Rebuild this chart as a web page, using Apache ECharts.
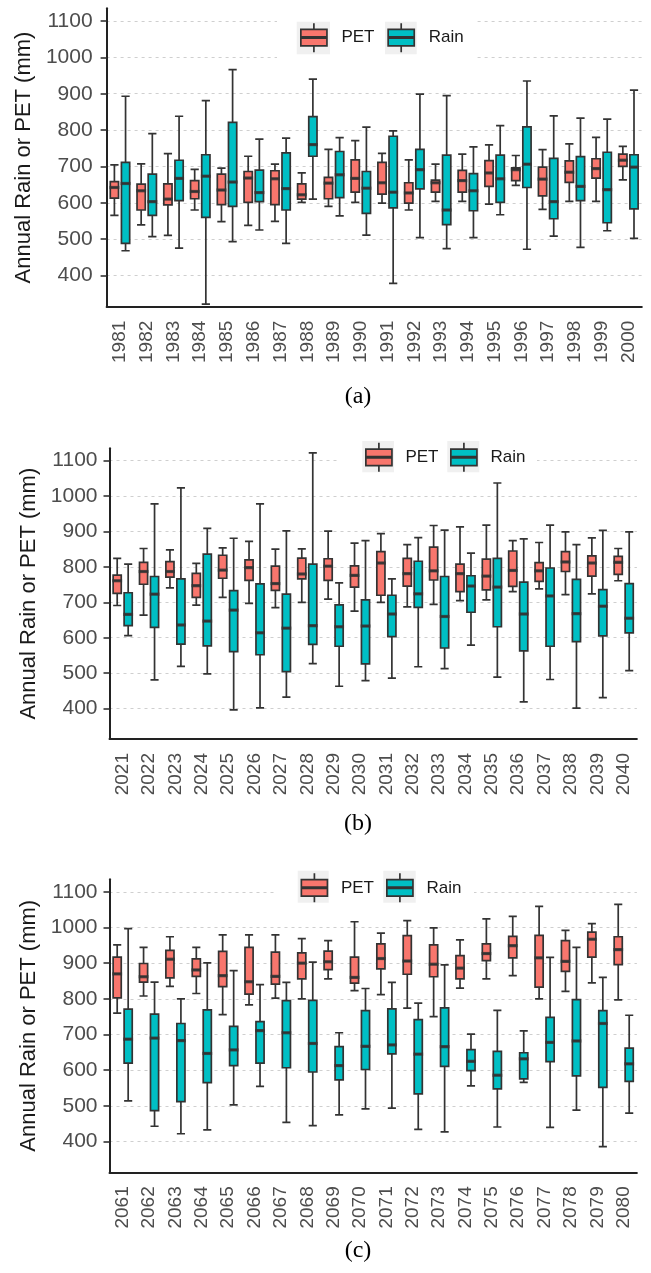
<!DOCTYPE html>
<html lang="en">
<head>
    <meta charset="UTF-8">
    <title>Annual Rain and PET</title>
    <script src="https://cdn.jsdelivr.net/npm/echarts@6.0.0/dist/echarts.min.js"></script>
    <style>
        html, body { margin: 0; padding: 0; background: #fff; }
        #main { width: 651px; height: 1273px; }
    </style>
</head>
<body>

<div id="main"></div>
<script type="text/javascript">

    // categories
    var yearsA = ['1981', '1982', '1983', '1984', '1985', '1986', '1987', '1988', '1989', '1990',
        '1991', '1992', '1993', '1994', '1995', '1996', '1997', '1998', '1999', '2000'];
    var yearsB = ['2021', '2022', '2023', '2024', '2025', '2026', '2027', '2028', '2029', '2030',
        '2031', '2032', '2033', '2034', '2035', '2036', '2037', '2038', '2039', '2040'];
    var yearsC = ['2061', '2062', '2063', '2064', '2065', '2066', '2067', '2068', '2069', '2070',
        '2071', '2072', '2073', '2074', '2075', '2076', '2077', '2078', '2079', '2080'];

    var yTicks = [400, 500, 600, 700, 800, 900, 1000, 1100];

    // [lower whisker, Q1, median, Q3, upper whisker]
    var petA = [
        [565, 613, 642, 658, 704], [539, 580, 633, 651, 707], [510, 594, 610, 652, 735], [580, 611, 631, 661, 692],
        [548, 595, 635, 679, 695], [538, 601, 668, 686, 728], [549, 595, 666, 688, 706], [601, 610, 622, 652, 682],
        [590, 611, 654, 670, 747], [601, 629, 667, 718, 771], [599, 624, 655, 711, 736], [580, 599, 627, 655, 718],
        [604, 629, 655, 662, 706], [604, 629, 661, 689, 734], [596, 645, 682, 716, 759], [648, 661, 691, 696, 730],
        [582, 619, 665, 698, 746], [604, 656, 684, 715, 762], [604, 668, 694, 721, 780], [663, 700, 717, 734, 755]
    ];
    var rainA = [
        [468, 488, 653, 711, 893], [507, 565, 603, 679, 790], [475, 606, 667, 717, 838], [321, 560, 673, 732, 881],
        [493, 590, 657, 821, 966], [525, 603, 628, 690, 775], [488, 580, 639, 737, 778], [610, 728, 760, 837, 940],
        [564, 614, 677, 741, 779], [511, 571, 640, 686, 808], [378, 586, 629, 783, 798], [504, 638, 691, 747, 899],
        [474, 540, 580, 731, 895], [504, 578, 633, 680, 754], [567, 601, 666, 731, 812], [472, 642, 706, 809, 935],
        [508, 556, 603, 722, 839], [477, 606, 645, 727, 833], [523, 545, 636, 739, 830], [502, 583, 698, 732, 910]
    ];
    var petB = [
        [691, 725, 761, 777, 824], [664, 751, 787, 813, 852], [741, 771, 787, 815, 848], [692, 714, 747, 782, 810],
        [714, 768, 791, 833, 854], [697, 762, 798, 820, 872], [685, 734, 753, 802, 850], [700, 766, 780, 825, 851],
        [709, 762, 802, 823, 901], [675, 743, 776, 803, 867], [700, 720, 811, 843, 894], [687, 746, 781, 824, 863],
        [694, 763, 789, 856, 917], [705, 730, 781, 808, 913], [707, 735, 774, 822, 918], [730, 745, 790, 845, 874],
        [738, 759, 789, 812, 869], [722, 787, 814, 843, 899], [724, 774, 811, 831, 882], [761, 779, 813, 830, 852]
    ];
    var rainB = [
        [606, 634, 666, 727, 808], [481, 629, 723, 773, 978], [519, 582, 636, 766, 1023], [498, 577, 647, 836, 909],
        [396, 561, 678, 733, 881], [402, 552, 614, 752, 978], [432, 504, 627, 723, 902], [527, 581, 634, 808, 1122],
        [463, 576, 631, 693, 755], [479, 526, 633, 707, 874], [486, 603, 667, 720, 766], [518, 686, 724, 816, 883],
        [513, 571, 660, 773, 904], [579, 672, 746, 775, 839], [489, 631, 743, 824, 1037], [419, 563, 667, 757, 879],
        [482, 576, 718, 797, 918], [401, 589, 668, 765, 863], [431, 605, 689, 736, 903], [507, 614, 655, 753, 899]
    ];
    var petC = [
        [760, 803, 870, 917, 951], [808, 847, 862, 899, 944], [835, 859, 911, 936, 974], [815, 863, 881, 912, 944],
        [756, 834, 865, 933, 979], [783, 813, 848, 944, 979], [802, 841, 863, 931, 979], [800, 856, 900, 929, 969],
        [856, 882, 904, 934, 963], [823, 844, 860, 917, 1016], [812, 884, 913, 954, 984], [774, 869, 906, 977, 1019],
        [750, 862, 897, 951, 999], [830, 856, 886, 921, 965], [856, 907, 927, 954, 1024], [865, 915, 949, 975, 1031],
        [800, 833, 915, 978, 1059], [821, 877, 905, 963, 992], [845, 917, 967, 987, 1011], [797, 896, 938, 974, 1065]
    ];
    var rainC = [
        [514, 620, 687, 771, 997], [443, 487, 690, 757, 847], [422, 512, 683, 731, 800], [433, 565, 647, 769, 901],
        [503, 613, 657, 723, 879], [555, 620, 711, 736, 840], [454, 607, 705, 795, 846], [445, 595, 675, 796, 903],
        [475, 573, 613, 666, 705], [492, 602, 667, 767, 829], [494, 646, 671, 772, 846], [434, 534, 645, 742, 788],
        [427, 611, 666, 775, 895], [556, 599, 625, 658, 701], [441, 548, 586, 653, 768], [566, 576, 632, 649, 710],
        [440, 624, 678, 748, 916], [488, 584, 682, 798, 944], [386, 552, 731, 767, 860], [480, 569, 618, 662, 754]
    ];

    var petColor = '#F8766D';
    var rainColor = '#00BFC4';
    var edge = '#333333';
    var sans = '"Liberation Sans", Arial, sans-serif';

    // box glyph for the legend keys: box, median, two whiskers
    var keyIcon = 'path://M0 6.5H27V23.5H0Z M0 14.3H27V15.5H0Z M13.5 0L13.5 6.5 M13.5 23.5L13.5 30';

    var panels = [
        {years: yearsA, pet: petA, rain: rainA, left: 106.6, width: 535.2, top: 8.3, height: 298.4,
            labelMargin: 14, nameGap: 70, caption: '(a)', capY: 397,
            legTop: 22.3, petLeg: 300, rainLeg: 387.3, textPad: 9,
            white: [277, 12, 197, 50], petKey: [296.7, 21.7, 33.3, 32.6], rainKey: [385, 21.7, 31.7, 32.6]},
        {years: yearsB, pet: petB, rain: rainB, left: 109.5, width: 527.4, top: 448.3, height: 290.7,
            labelMargin: 12, nameGap: 68, caption: '(b)', capY: 824,
            legTop: 442, petLeg: 365, rainLeg: 450, textPad: 8,
            white: [340, 436, 197, 42], petKey: [362.3, 441, 31.7, 31.3], rainKey: [447.3, 441, 32, 31.3]},
        {years: yearsC, pet: petC, rain: rainC, left: 109.5, width: 527.4, top: 879.3, height: 293,
            labelMargin: 12, nameGap: 68, caption: '(c)', capY: 1251,
            legTop: 872.5, petLeg: 300.5, rainLeg: 386, textPad: 8,
            white: [277, 864, 197, 48], petKey: [297.7, 870.7, 31, 32], rainKey: [383.3, 870.7, 32.4, 32]}
    ];

    var option = {
        backgroundColor: '#fff',
        animation: false,
        grid: [], xAxis: [], yAxis: [], series: [], legend: [],
        graphic: {elements: []}
    };

    panels.forEach(function (p, i) {
        // same box width / offset as the boxplot layout uses
        var band = p.width / p.years.length;
        var avail = band * 0.8 - 2;
        var gap = avail / 2 * 0.3;
        var bw = (avail - gap) / 2;
        var off = avail / 2 - bw / 2;

        option.grid.push({left: p.left, top: p.top, width: p.width, height: p.height});

        option.xAxis.push({
            type: 'category', gridIndex: i, data: p.years,
            axisLine: {onZero: false, lineStyle: {color: '#222', width: 2}},
            axisTick: {alignWithLabel: true, length: 6, lineStyle: {color: '#333', width: 1.6}},
            axisLabel: {rotate: 90, interval: 0, margin: 14, fontSize: 19, color: '#4d4d4d', fontFamily: sans},
            splitLine: {show: false}
        });

        option.yAxis.push({
            type: 'value', gridIndex: i, min: 314, max: 1135, splitNumber: 8, minInterval: 100, maxInterval: 100,
            name: 'Annual Rain or PET (mm)', nameLocation: 'middle', nameGap: p.nameGap,
            nameTextStyle: {fontSize: 22, color: '#1a1a1a', fontFamily: sans},
            axisLine: {show: true, lineStyle: {color: '#222', width: 2}},
            axisTick: {show: true, length: 6, customValues: yTicks, lineStyle: {color: '#333', width: 1.6}},
            axisLabel: {
                customValues: yTicks, margin: p.labelMargin, fontSize: 21, color: '#4d4d4d', fontFamily: sans,
                formatter: function (v) { return String(v); }
            },
            splitLine: {show: true, lineStyle: {type: [3, 4], color: '#cfcfcf', width: 1}}
        });

        option.series.push({
            name: 'PET', type: 'boxplot', xAxisIndex: i, yAxisIndex: i, data: p.pet,
            itemStyle: {color: petColor, borderColor: edge, borderWidth: 1.7},
            emphasis: {disabled: true}
        }, {
            name: 'Rain', type: 'boxplot', xAxisIndex: i, yAxisIndex: i, data: p.rain,
            itemStyle: {color: rainColor, borderColor: edge, borderWidth: 1.7},
            emphasis: {disabled: true}
        }, {
            // thicker median bars
            name: 'PET', type: 'scatter', xAxisIndex: i, yAxisIndex: i, z: 3, silent: true,
            data: p.pet.map(function (d) { return d[2]; }),
            symbol: 'rect', symbolSize: [bw + 1.7, 3.2], symbolOffset: [-off, 0],
            itemStyle: {color: edge}
        }, {
            name: 'Rain', type: 'scatter', xAxisIndex: i, yAxisIndex: i, z: 3, silent: true,
            data: p.rain.map(function (d) { return d[2]; }),
            symbol: 'rect', symbolSize: [bw + 1.7, 3.2], symbolOffset: [off, 0],
            itemStyle: {color: edge}
        });

        var legText = {fontSize: 17, color: '#1a1a1a', fontFamily: sans, padding: [0, 0, 0, p.textPad]};
        option.legend.push({
            left: p.petLeg, top: p.legTop, padding: 0, itemWidth: 27, itemHeight: 29, textStyle: legText,
            data: [{name: 'PET', icon: keyIcon, itemStyle: {color: petColor, borderColor: edge, borderWidth: 1.7}}]
        }, {
            left: p.rainLeg, top: p.legTop, padding: 0, itemWidth: 27, itemHeight: 29, textStyle: legText,
            data: [{name: 'Rain', icon: keyIcon, itemStyle: {color: rainColor, borderColor: edge, borderWidth: 1.7}}]
        });

        option.graphic.elements.push(
            {type: 'rect', z: 3, silent: true,
                shape: {x: p.white[0], y: p.white[1], width: p.white[2], height: p.white[3]}, style: {fill: '#fff'}},
            {type: 'rect', z: 3, z2: 1, silent: true,
                shape: {x: p.petKey[0], y: p.petKey[1], width: p.petKey[2], height: p.petKey[3]}, style: {fill: '#f0f0f0'}},
            {type: 'rect', z: 3, z2: 1, silent: true,
                shape: {x: p.rainKey[0], y: p.rainKey[1], width: p.rainKey[2], height: p.rainKey[3]}, style: {fill: '#f0f0f0'}},
            {type: 'text', z: 3, x: 358, y: p.capY, silent: true,
                style: {text: p.caption, fontSize: 24, fontFamily: '"Liberation Serif", "Times New Roman", serif',
                    fill: '#000', align: 'center', verticalAlign: 'middle'}}
        );
    });

    var myChart = echarts.init(document.getElementById('main'));
    myChart.setOption(option);

</script>

</body>
</html>
